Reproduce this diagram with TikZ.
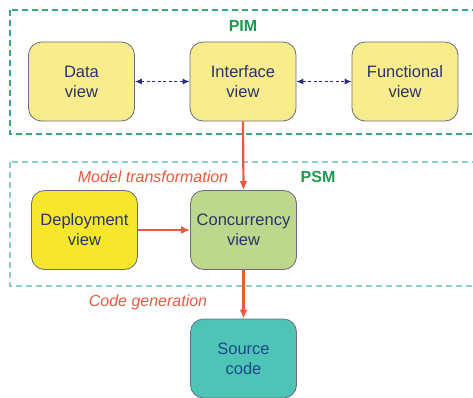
\documentclass[tikz,border=0pt]{standalone}
\usepackage{fontspec}
\setmainfont{Liberation Sans}
\usetikzlibrary{arrows.meta}
\definecolor{pimgreen}{HTML}{3AAA78}
\definecolor{psmteal}{HTML}{86D2C4}
\definecolor{lblgreen}{HTML}{1E9A50}
\definecolor{paleyel}{HTML}{F8EC8C}
\definecolor{brightyel}{HTML}{F6E62C}
\definecolor{concgreen}{HTML}{BDD78C}
\definecolor{srcteal}{HTML}{4EC4B6}
\definecolor{boxline}{HTML}{6A6A80}
\definecolor{navy}{HTML}{2A3468}
\definecolor{srctext}{HTML}{1A4A8C}
\definecolor{arrred}{HTML}{EA5A3C}
\definecolor{dashblue}{HTML}{2A2E7A}
\tikzset{
  viewbox/.style={draw=boxline, line width=0.8pt, rounded corners=13pt, minimum width=106pt, minimum height=79pt, align=center, text=navy, font=\fontsize{16.5}{20}\selectfont, inner sep=0pt},
  region/.style={dashed, dash pattern=on 6pt off 4pt, line width=1.1pt},
  redarrow/.style={draw=arrred, line width=2.2pt, -{Latex[length=9pt,width=8pt]}},
  bluearrow/.style={draw=dashblue, line width=1pt, dash pattern=on 3pt off 2.5pt, {Latex[length=7pt,width=6pt]}-{Latex[length=7pt,width=6pt]}},
  redlabel/.style={text=arrred, font=\fontsize{16}{19}\selectfont\itshape},
  greenlabel/.style={text=lblgreen, font=\fontsize{16}{19}\selectfont\bfseries}
}
\begin{document}
\begin{tikzpicture}[x=1pt,y=-1pt]
\useasboundingbox (0,0) rectangle (473,397);
\draw[region, draw=pimgreen] (10,10) rectangle (490,134);
\draw[region, draw=psmteal] (10,162) rectangle (490,286);
\node[greenlabel] (pim) at (243,26) {PIM};
\node[greenlabel] (psm) at (318,177) {PSM};
\node[viewbox, fill=paleyel] (data) at (81.5,81.5) {Data\\view};
\node[viewbox, fill=paleyel] (iface) at (243,81.5) {Interface\\view};
\node[viewbox, fill=paleyel] (func) at (405,81.5) {Functional\\view};
\node[viewbox, fill=brightyel] (deploy) at (84.5,230) {Deployment\\view};
\node[viewbox, fill=concgreen] (conc) at (243.5,230) {Concurrency\\view};
\node[viewbox, fill=srcteal, text=srctext] (src) at (243.5,358.5) {Source\\code};
\node[redlabel] (mt) at (153,177) {Model transformation};
\node[redlabel] (cg) at (148,302) {Code generation};
\draw[bluearrow] (data.east) -- (iface.west);
\draw[bluearrow] (iface.east) -- (func.west);
\draw[redarrow] (iface.south) -- (conc.north);
\draw[redarrow] (deploy.east) -- (conc.west);
\draw[redarrow] (conc.south) -- (src.north);
\end{tikzpicture}
\end{document}
